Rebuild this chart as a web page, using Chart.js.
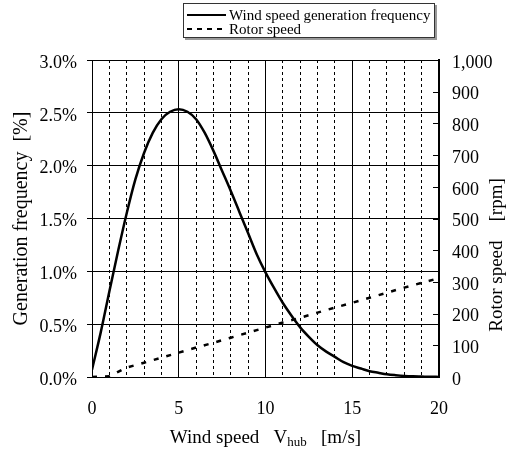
<!DOCTYPE html>
<html>
<head>
<meta charset="utf-8">
<script src="https://cdn.jsdelivr.net/npm/chart.js@4.4.0/dist/chart.umd.min.js"></script>
<style>
  html, body { margin: 0; padding: 0; background: #fff; }
  #wrap { width: 509px; height: 450px; }
</style>
</head>
<body>
<div id="wrap"><canvas id="myChart" width="509" height="450"></canvas></div>
<script>
// wind speed [m/s] and generation frequency [%]
var windSpeed = [0, 0.5, 1, 1.5, 2, 2.5, 3, 3.5, 4, 4.5, 5, 5.5, 6, 6.5, 7, 7.5, 8, 8.5, 9, 9.5,
                 10, 10.5, 11, 11.5, 12, 12.5, 13, 13.5, 14, 14.5, 15, 15.5, 16, 16.5, 17, 17.5, 18, 18.5, 19, 19.5, 20];
var genFrequency = [0.07, 0.42, 0.81, 1.19, 1.55, 1.87, 2.12, 2.31, 2.44, 2.51, 2.535, 2.51, 2.44, 2.31, 2.14, 1.95, 1.76, 1.56, 1.36, 1.16,
                    0.99, 0.84, 0.70, 0.58, 0.47, 0.38, 0.30, 0.24, 0.19, 0.14, 0.105, 0.08, 0.055, 0.04, 0.026, 0.017, 0.01, 0.006, 0.004, 0.002, 0.001];

// rotor speed [rpm]
var rotorWind = [0, 1, 2, 3, 4, 5, 6, 7, 8, 9, 10, 11, 12, 13, 14, 15, 16, 17, 18, 19, 20];
var rotorSpeed = [0, 2, 30, 45, 61, 77, 93, 108, 124, 140, 156, 172, 187, 203, 219, 234, 250, 266, 282, 297, 312];

var xLabelValues = [0, 5, 10, 15, 20];
var seriesLabels = ['Wind speed generation frequency', 'Rotor speed'];

var FONT = '"Liberation Serif", "Times New Roman", serif';

function toPoints(xs, ys) {
  return xs.map(function (v, i) { return { x: v, y: ys[i] }; });
}

var extras = {
  id: 'extras',
  afterDraw: function (chart) {
    var ctx = chart.ctx, area = chart.chartArea;
    var y2 = chart.scales.y2;

    ctx.save();
    // right axis ticks point inwards
    ctx.strokeStyle = '#000';
    ctx.lineWidth = 1;
    y2.ticks.forEach(function (t) {
      var py = Math.round(y2.getPixelForValue(t.value)) + 0.5;
      ctx.beginPath();
      ctx.moveTo(area.right, py);
      ctx.lineTo(area.right - 6, py);
      ctx.stroke();
    });

    // right axis title, reads bottom to top
    ctx.fillStyle = '#000';
    ctx.font = '19px ' + FONT;
    ctx.textAlign = 'center';
    ctx.textBaseline = 'middle';
    ctx.save();
    ctx.translate(497, 255);
    ctx.rotate(-Math.PI / 2);
    ctx.fillText('Rotor speed    [rpm]', 0, 0);
    ctx.restore();

    // x axis title with subscript
    var p1 = 'Wind speed   V', p2 = 'hub', p3 = '   [m/s]';
    ctx.textAlign = 'left';
    ctx.textBaseline = 'alphabetic';
    ctx.font = '19px ' + FONT;
    var w1 = ctx.measureText(p1).width, w3 = ctx.measureText(p3).width;
    ctx.font = '13px ' + FONT;
    var w2 = ctx.measureText(p2).width;
    var cx = (area.left + area.right) / 2;
    var sx = cx - (w1 + w2 + w3) / 2, by = 443;
    ctx.font = '19px ' + FONT;
    ctx.fillText(p1, sx, by);
    ctx.font = '13px ' + FONT;
    ctx.fillText(p2, sx + w1, by + 3);
    ctx.font = '19px ' + FONT;
    ctx.fillText(p3, sx + w1 + w2, by);

    // legend box
    var bl = 183, bt = 3, br = 435, bb = 38;
    ctx.fillStyle = '#999';
    ctx.fillRect(bl + 2, bb, br - bl, 2);
    ctx.fillRect(br, bt + 2, 2, bb - bt);
    ctx.fillStyle = '#fff';
    ctx.fillRect(bl, bt, br - bl, bb - bt);
    ctx.strokeStyle = '#333';
    ctx.lineWidth = 1;
    ctx.strokeRect(bl + 0.5, bt + 0.5, br - bl - 1, bb - bt - 1);

    var rows = [15, 29];
    chart.data.datasets.forEach(function (ds, i) {
      ctx.strokeStyle = '#000';
      ctx.lineWidth = 2;
      ctx.setLineDash(ds.borderDash ? [5, 5] : []);
      ctx.beginPath();
      ctx.moveTo(187, rows[i]);
      ctx.lineTo(226, rows[i]);
      ctx.stroke();
      ctx.setLineDash([]);
      ctx.fillStyle = '#000';
      ctx.font = '15px ' + FONT;
      ctx.textBaseline = 'middle';
      ctx.fillText(ds.label, 229, rows[i] + 1);
    });
    ctx.restore();
  }
};

var ctx = document.getElementById('myChart');
var myChart = new Chart(ctx, {
  type: 'line',
  data: {
    datasets: [{
      label: seriesLabels[0],
      data: toPoints(windSpeed, genFrequency),
      yAxisID: 'y',
      borderColor: '#000',
      borderWidth: 2.5,
      pointRadius: 0,
      cubicInterpolationMode: 'monotone',
      fill: false
    }, {
      label: seriesLabels[1],
      data: toPoints(rotorWind, rotorSpeed),
      yAxisID: 'y2',
      borderColor: '#000',
      borderWidth: 2.5,
      borderDash: [5, 8],
      pointRadius: 0,
      fill: false
    }]
  },
  options: {
    responsive: false,
    animation: false,
    devicePixelRatio: 1,
    layout: { padding: { top: 60, left: 0, right: 0, bottom: 0 } },
    plugins: {
      legend: { display: false },
      tooltip: { enabled: false }
    },
    scales: {
      x: {
        type: 'linear',
        min: 0,
        max: 20,
        ticks: {
          stepSize: 1,
          autoSkip: false,
          maxRotation: 0,
          padding: 21,
          color: '#000',
          font: { family: FONT, size: 18 },
          callback: function (v) { return xLabelValues.indexOf(v) >= 0 ? String(v) : ''; }
        },
        grid: { color: '#000', lineWidth: 1, drawTicks: false },
        border: {
          color: '#000',
          width: 1,
          dash: function (c) { return (c.tick && c.tick.value % 5 !== 0) ? [3, 3] : []; }
        },
        afterFit: function (s) { s.height = 73; }
      },
      y: {
        position: 'left',
        min: 0,
        max: 3,
        ticks: {
          stepSize: 0.5,
          padding: 10,
          labelOffset: 3,
          color: '#000',
          font: { family: FONT, size: 18 },
          callback: function (v) { return v.toFixed(1) + '%'; }
        },
        grid: { color: '#000', lineWidth: 1, tickLength: 5 },
        border: { color: '#000', width: 1 },
        title: {
          display: true,
          text: 'Generation frequency  [%]',
          color: '#000',
          font: { family: FONT, size: 20 },
          padding: { top: 10, bottom: 0 }
        },
        afterFit: function (s) { s.width = 92; }
      },
      y2: {
        position: 'right',
        min: 0,
        max: 1000,
        ticks: {
          stepSize: 100,
          padding: 13,
          labelOffset: 3,
          color: '#000',
          font: { family: FONT, size: 18 },
          callback: function (v) { return v.toLocaleString('en-US'); }
        },
        grid: { drawOnChartArea: false, drawTicks: false },
        border: { color: '#000', width: 2 },
        afterFit: function (s) { s.width = 70; }
      }
    }
  },
  plugins: [extras]
});
</script>
</body>
</html>
